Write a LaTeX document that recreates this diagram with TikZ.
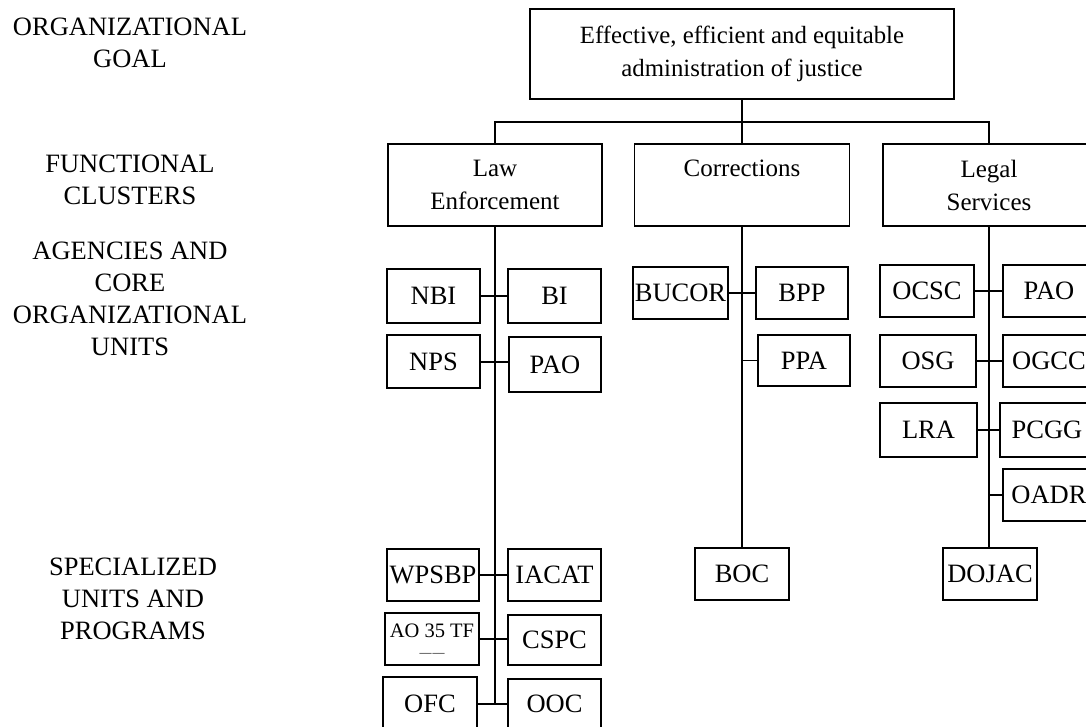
\documentclass[tikz,border=0pt]{standalone}
\usepackage{fontspec}
\setmainfont{Liberation Serif}
\begin{document}
\begin{tikzpicture}[x=1pt,y=-1pt,
  box/.style={draw, line width=1.3pt, inner sep=0pt, align=center, font=\fontsize{26.5}{33}\selectfont},
  cbox/.style={box, font=\fontsize{25}{33}\selectfont},
  lbl/.style={inner sep=0pt, align=center, font=\fontsize{26.5}{32}\selectfont},
  conn/.style={line width=1.6pt},
  trunk/.style={line width=2.4pt},
  thin/.style={line width=1.6pt}]
\clip (0,0) rectangle (1086,727);
\fill[white] (0,0) rectangle (1086,727);
% left labels
\node[lbl] (l1) at (130,43) {ORGANIZATIONAL\\GOAL};
\node[lbl] (l2) at (130,180) {FUNCTIONAL\\CLUSTERS};
\node[lbl] (l3) at (130,299) {AGENCIES AND\\CORE\\ORGANIZATIONAL\\UNITS};
\node[lbl] (l4) at (133,599) {SPECIALIZED\\UNITS AND\\PROGRAMS};
% goal
\node[cbox, minimum width=424pt, minimum height=90pt, font=\fontsize{24.8}{33}\selectfont] (top) at (742,54) {Effective, efficient and equitable\\administration of justice};
% clusters
\node[cbox, minimum width=214pt, minimum height=82pt] (le) at (495,185) {Law\\Enforcement};
\node[cbox, minimum width=215pt, minimum height=82pt] (cor) at (742,185) {Corrections\\~};
\node[cbox, minimum width=212pt, minimum height=82pt] (ls) at (989,185) {Legal\\Services};
\coordinate (bus) at (742,122);
\draw[conn] (top.south) -- (cor.north);
\draw[conn] (le.north) |- (bus) -| (ls.north);
% law enforcement units
\node[box, minimum width=93pt, minimum height=54pt] (nbi) at (433.5,296) {NBI};
\node[box, minimum width=93pt, minimum height=54pt] (bi) at (554.5,296) {BI};
\node[box, minimum width=93pt, minimum height=53pt] (nps) at (433.5,361.5) {NPS};
\node[box, minimum width=92pt, minimum height=55pt] (pao1) at (555,364.5) {PAO};
\node[box, minimum width=92pt, minimum height=52pt] (wpsbp) at (433,575) {WPSBP};
\node[box, minimum width=93pt, minimum height=52pt] (iacat) at (554.5,575) {IACAT};
\node[box, minimum width=94pt, minimum height=52pt, font=\fontsize{20.5}{21}\selectfont] (ao) at (432,639) {AO 35 TF\\[-6pt]{\fontsize{12}{12}\selectfont\_\_\kern1pt\_\_}};
\node[box, minimum width=93pt, minimum height=50pt] (cspc) at (554.5,640) {CSPC};
\node[box, minimum width=94pt, minimum height=54pt] (ofc) at (430,704) {OFC};
\node[box, minimum width=93pt, minimum height=50pt] (ooc) at (554.5,704) {OOC};
\draw[trunk] (le.south) -- (le.south |- ofc.east);
\draw[conn] (nbi.east) -- (bi.west);
\draw[conn] (nps.east |- 0,362) -- (pao1.west |- 0,362);
\draw[conn] (wpsbp.east) -- (iacat.west);
\draw[conn] (ao.east |- 0,639) -- (cspc.west |- 0,639);
\draw[trunk] (ao.east |- 0,639) -- (le.south |- 0,639);
\draw[conn] (ofc.east) -- (ooc.west);
% corrections units
\node[box, minimum width=95pt, minimum height=52pt] (bucor) at (680.5,293) {BUCOR};
\node[box, minimum width=92pt, minimum height=52pt] (bpp) at (802,293) {BPP};
\node[box, minimum width=92pt, minimum height=51pt] (ppa) at (804,360.5) {PPA};
\node[box, minimum width=94pt, minimum height=52pt] (boc) at (742,574) {BOC};
\draw[trunk] (cor.south) -- (cor.south |- ppa.west);
\draw[thin] (cor.south |- ppa.west) -- (boc.north);
\draw[conn] (bucor.east) -- (bpp.west);
\draw[conn] (ppa.west) -- (ppa.west -| cor.south);
% legal services units
\node[box, minimum width=94pt, minimum height=52pt] (ocsc) at (927,291) {OCSC};
\node[box, minimum width=92pt, minimum height=52pt] (pao2) at (1049,291) {PAO};
\node[box, minimum width=96pt, minimum height=52pt] (osg) at (928,361) {OSG};
\node[box, minimum width=92pt, minimum height=52pt] (ogcc) at (1049,361) {OGCC};
\node[box, minimum width=97pt, minimum height=54pt] (lra) at (928.5,430) {LRA};
\node[box, minimum width=94pt, minimum height=54pt] (pcgg) at (1047,430) {PCGG};
\node[box, minimum width=92pt, minimum height=52pt] (oadr) at (1049,495) {OADR};
\node[box, minimum width=94pt, minimum height=52pt] (dojac) at (990,574) {DOJAC};
\draw[trunk] (ls.south) -- (ls.south |- oadr.west);
\draw[thin] (ls.south |- oadr.west) -- (ls.south |- dojac.north);
\draw[conn] (ocsc.east) -- (pao2.west);
\draw[conn] (osg.east) -- (ogcc.west);
\draw[conn] (lra.east) -- (pcgg.west);
\draw[conn] (oadr.west) -- (oadr.west -| ls.south);
\end{tikzpicture}
\end{document}
